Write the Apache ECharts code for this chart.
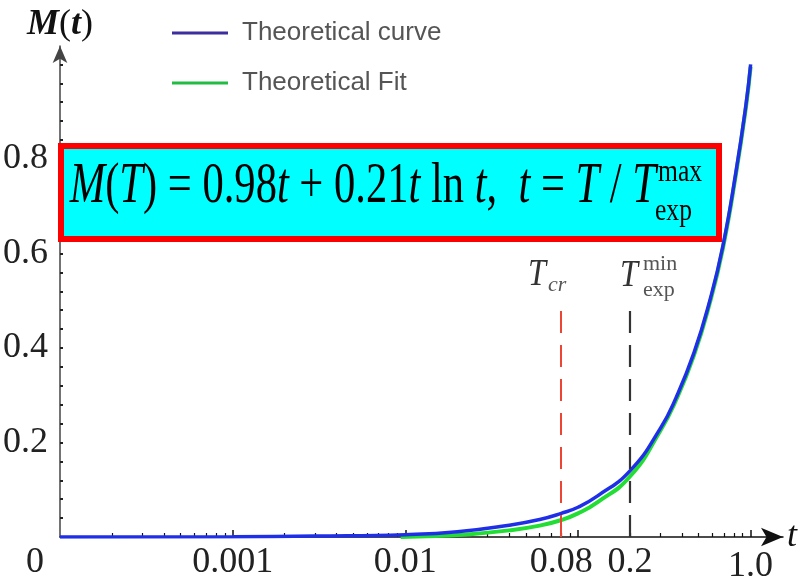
<!DOCTYPE html>
<html><head><meta charset="utf-8">
<script src="https://cdn.jsdelivr.net/npm/echarts@6/dist/echarts.min.js"></script>
<style>html,body{margin:0;padding:0;background:#fff}#c{width:800px;height:585px}</style>
</head><body><div id="c"></div>
<script>
// ---- data ----
const xTickValues = [0.0001, 0.001, 0.01, 0.08, 0.2, 1.0];
const xTickLabels = ['0', '0.001', '0.01', '0.08', '0.2', '1.0'];
const xMajorTicks = [0.001, 0.01, 0.1, 1.0];
const yTickValues = [0.2, 0.4, 0.6, 0.8];
const yTickLabels = ['0.2', '0.4', '0.6', '0.8'];

// Theoretical curve (blue)
const curveT = [0.0001, 0.001, 0.003, 0.01, 0.02, 0.04, 0.06, 0.08, 0.1, 0.13, 0.2, 0.3, 0.37, 0.47, 0.58, 0.69, 0.82, 0.94, 1.0];
const curveM = [0, 0.0005, 0.002, 0.005, 0.011, 0.025, 0.037, 0.05, 0.063, 0.087, 0.14, 0.23, 0.295, 0.39, 0.5, 0.615, 0.77, 0.915, 1.0];
// Theoretical Fit (green)
const fitT = [0.0094, 0.015, 0.02, 0.04, 0.06, 0.08, 0.1, 0.13, 0.2, 0.3, 0.37, 0.47, 0.58, 0.69, 0.82, 0.94, 1.0];
const fitM = [0, 0.002, 0.004, 0.014, 0.024, 0.036, 0.05, 0.074, 0.128, 0.225, 0.29, 0.385, 0.495, 0.61, 0.765, 0.91, 0.995];

const tCr = 0.08, tExpMin = 0.2, markerTop = 0.5;
const seriesNames = ['Theoretical curve', 'Theoretical Fit'];

// minor log ticks 2..9 per decade
const xMinorTicks = [];
[0.0001, 0.001, 0.01, 0.1].forEach(d => { for (let k = 2; k <= 9; k++) xMinorTicks.push(+(d * k).toPrecision(3)); });
const yMinorTicks = [];
for (let i = 1; i <= 25; i++) yMinorTicks.push(+(i * 0.04).toFixed(2));

const serif = "'Liberation Serif', 'Times New Roman', serif";
const xMin = 0.0001, xMax = 1.54, yMax = 1.039;

function xLabel(v) {
  for (let i = 0; i < xTickValues.length; i++) {
    if (Math.abs(Math.log10(v) - Math.log10(xTickValues[i])) < 1e-6) {
      if (i === 0) return '{z|' + xTickLabels[i] + '}';
      if (xTickLabels[i] === '1.0') return '{o|' + xTickLabels[i] + '}';
      return xTickLabels[i];
    }
  }
  return '';
}

const chart = echarts.init(document.getElementById('c'));
chart.setOption({
  animation: false,
  backgroundColor: '#fff',
  grid: { left: 52, right: 15, top: 46, bottom: 48 },
  legend: {
    orient: 'vertical', left: 167, top: 15,
    icon: 'rect', itemWidth: 56, itemHeight: 3, itemGap: 24,
    textStyle: { fontFamily: "'Liberation Sans', Arial, sans-serif", fontSize: 26, lineHeight: 25, color: '#555', padding: [0, 0, 0, 9] },
    data: [
      { name: seriesNames[0], itemStyle: { color: '#3d2e9e' } },
      { name: seriesNames[1], itemStyle: { color: '#22bb44' } }
    ]
  },
  xAxis: [{
    type: 'log', logBase: 10, min: xMin, max: xMax,
    name: 't', nameLocation: 'end', nameGap: 4,
    nameTextStyle: { fontFamily: serif, fontStyle: 'italic', fontSize: 36, color: '#111', verticalAlign: 'middle' },
    axisLine: { show: true, symbol: ['none', 'arrow'], symbolSize: [14, 22], lineStyle: { color: '#111', width: 1.5 } },
    axisTick: { show: true, inside: true, length: 7, customValues: xMajorTicks, lineStyle: { color: '#111', width: 1.5 } },
    axisLabel: {
      show: true, customValues: xTickValues, formatter: xLabel, margin: 8,
      fontFamily: serif, fontSize: 36, color: '#222',
      rich: { z: { fontFamily: serif, fontSize: 36, color: '#222', padding: [0, 50, 0, 0] },
              o: { fontFamily: serif, fontSize: 36, color: '#222', padding: [4, 0, 0, 0] } }
    },
    splitLine: { show: false }
  }, {
    type: 'log', logBase: 10, min: xMin, max: xMax, position: 'bottom',
    axisLine: { show: false },
    axisTick: { show: true, inside: true, length: 4, customValues: xMinorTicks, lineStyle: { color: '#111', width: 1.2 } },
    axisLabel: { show: false },
    splitLine: { show: false }
  }],
  yAxis: {
    type: 'value', min: 0, max: yMax,
    name: '{b|M}{p|(}{b|t}{p|)}', nameLocation: 'end', nameGap: 3,
    nameTextStyle: {
      align: 'center',
      rich: { b: { fontFamily: serif, fontStyle: 'italic', fontWeight: 'bold', fontSize: 36, color: '#111' },
              p: { fontFamily: serif, fontSize: 36, color: '#111' } }
    },
    axisLine: { show: true, symbol: ['none', 'arrow'], symbolSize: [11, 17], lineStyle: { color: '#444', width: 1.5 } },
    axisTick: { show: true, inside: true, length: 3, customValues: yMinorTicks, lineStyle: { color: '#222', width: 2 } },
    axisLabel: {
      show: true, customValues: yTickValues, margin: 12,
      formatter: v => { const i = yTickValues.findIndex(t => Math.abs(t - v) < 1e-6); return i >= 0 ? yTickLabels[i] : ''; },
      fontFamily: serif, fontSize: 36, color: '#222'
    },
    splitLine: { show: false }
  },
  series: [{
    name: seriesNames[1], type: 'line', smooth: 0.5, symbol: 'none',
    data: fitT.map((t, i) => [t, fitM[i]]),
    lineStyle: { color: '#22dd33', width: 4 }, itemStyle: { color: '#22dd33' }, z: 2
  }, {
    name: seriesNames[0], type: 'line', smooth: 0.5, symbol: 'none',
    data: curveT.map((t, i) => [t, curveM[i]]),
    lineStyle: { color: '#1f2fe8', width: 3.5 }, itemStyle: { color: '#1f2fe8' }, z: 3,
    markLine: {
      silent: true, symbol: 'none', label: { show: false },
      lineStyle: { type: [22, 12], width: 2 },
      data: [
        [{ coord: [tCr, 0], lineStyle: { color: '#ee4433', type: [22, 12], width: 2 } }, { coord: [tCr, markerTop] }],
        [{ coord: [tExpMin, 0], lineStyle: { color: '#333', type: [22, 12], width: 2.2 } }, { coord: [tExpMin, markerTop] }]
      ]
    }
  }],
  graphic: [
    { type: 'rect', z: 100, shape: { x: 61, y: 146, width: 658, height: 93 }, style: { fill: '#00ffff', stroke: '#ff0000', lineWidth: 6 } },
    { type: 'text', z: 101, x: 656, y: 187, scaleX: 0.76,
      style: { text: '{i|M}({i|T}) = 0.98{i|t} + 0.21{i|t} ln {i|t},  {i|t} = {i|T} / {i|T}',
               fontFamily: serif, fontSize: 56, fill: '#000', align: 'right', verticalAlign: 'middle',
               rich: { i: { fontFamily: serif, fontStyle: 'italic', fontSize: 56, fill: '#000' } } } },
    { type: 'text', z: 101, x: 658, y: 173, scaleX: 0.8, style: { text: 'max', fontFamily: serif, fontSize: 32, fill: '#000', align: 'left', verticalAlign: 'middle' } },
    { type: 'text', z: 101, x: 655, y: 212, scaleX: 0.8, style: { text: 'exp', fontFamily: serif, fontSize: 32, fill: '#000', align: 'left', verticalAlign: 'middle' } },
    { type: 'text', z: 101, x: 528, y: 275, scaleX: 0.85, style: { text: 'T', fontFamily: serif, fontStyle: 'italic', fontSize: 38, fill: '#333', align: 'left', verticalAlign: 'middle' } },
    { type: 'text', z: 101, x: 548, y: 285, style: { text: 'cr', fontFamily: serif, fontStyle: 'italic', fontSize: 22, fill: '#555', align: 'left', verticalAlign: 'middle' } },
    { type: 'text', z: 101, x: 620, y: 276, scaleX: 0.85, style: { text: 'T', fontFamily: serif, fontStyle: 'italic', fontSize: 38, fill: '#333', align: 'left', verticalAlign: 'middle' } },
    { type: 'text', z: 101, x: 643, y: 264, style: { text: 'min', fontFamily: serif, fontSize: 22, fill: '#555', align: 'left', verticalAlign: 'middle' } },
    { type: 'text', z: 101, x: 643, y: 290, style: { text: 'exp', fontFamily: serif, fontSize: 22, fill: '#555', align: 'left', verticalAlign: 'middle' } }
  ]
});
</script></body></html>
